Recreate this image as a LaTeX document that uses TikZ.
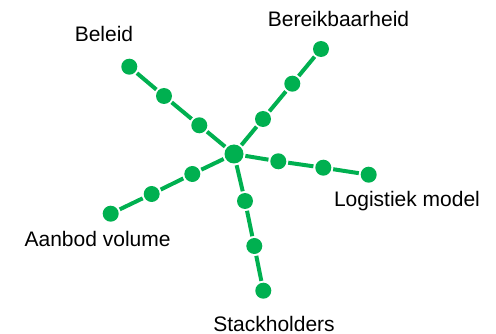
\documentclass[tikz,border=0pt]{standalone}
\usepackage{fontspec}
\setmainfont{Liberation Sans}
\usetikzlibrary{positioning}
\definecolor{leafgreen}{RGB}{0,176,80}

\begin{document}
\begin{tikzpicture}[
    x=1pt,y=-1pt,
    line width=4pt,
    dot/.style={
      circle,fill=leafgreen,inner sep=0pt,minimum size=16pt
    },
    hub/.style={dot,minimum size=19pt},
    branch/.style={draw=leafgreen},
    caption/.style={font=\fontsize{21}{25}\selectfont,inner sep=0pt}
  ]
  \useasboundingbox (0,0) rectangle (496,334);

  \node (c)  [hub] at (234,154)       {};
  % Beleid
  \node (b1) [dot] at (199.3,125.3)   {};
  \node (b2) [dot] at (164,96)        {};
  \node (b3) [dot] at (129.3,66.7)    {};
  % Bereikbaarheid
  \node (r1) [dot] at (263,119)       {};
  \node (r2) [dot] at (292.3,83.7)    {};
  \node (r3) [dot] at (321,49)        {};
  % Logistiek model
  \node (l1) [dot] at (278.3,161.3)   {};
  \node (l2) [dot] at (323.3,167.7)   {};
  \node (l3) [dot] at (368.7,174.7)   {};
  % Stackholders
  \node (s1) [dot] at (245,201)       {};
  \node (s2) [dot] at (254.3,246)     {};
  \node (s3) [dot] at (263.3,290.7)   {};
  % Aanbod volume
  \node (v1) [dot] at (192.3,174)     {};
  \node (v2) [dot] at (151.7,194)     {};
  \node (v3) [dot] at (110.7,213.7)   {};

  \node (tb) [caption] at (104,34)    {Beleid};
  \node (tr) [caption] at (338.5,18.5){Bereikbaarheid};
  \node (tl) [caption] at (407,201)   {Logistiek model};
  \node (ts) [caption] at (274,323.5) {Stackholders};
  \node (tv) [caption] at (97.6,239.3){Aanbod volume};

  % draw branches
  \foreach \a in {b,r,l,s,v} {
    \draw [branch] (c) -- (\a1) -- (\a2) -- (\a3);
  }
\end{tikzpicture}
\end{document}
